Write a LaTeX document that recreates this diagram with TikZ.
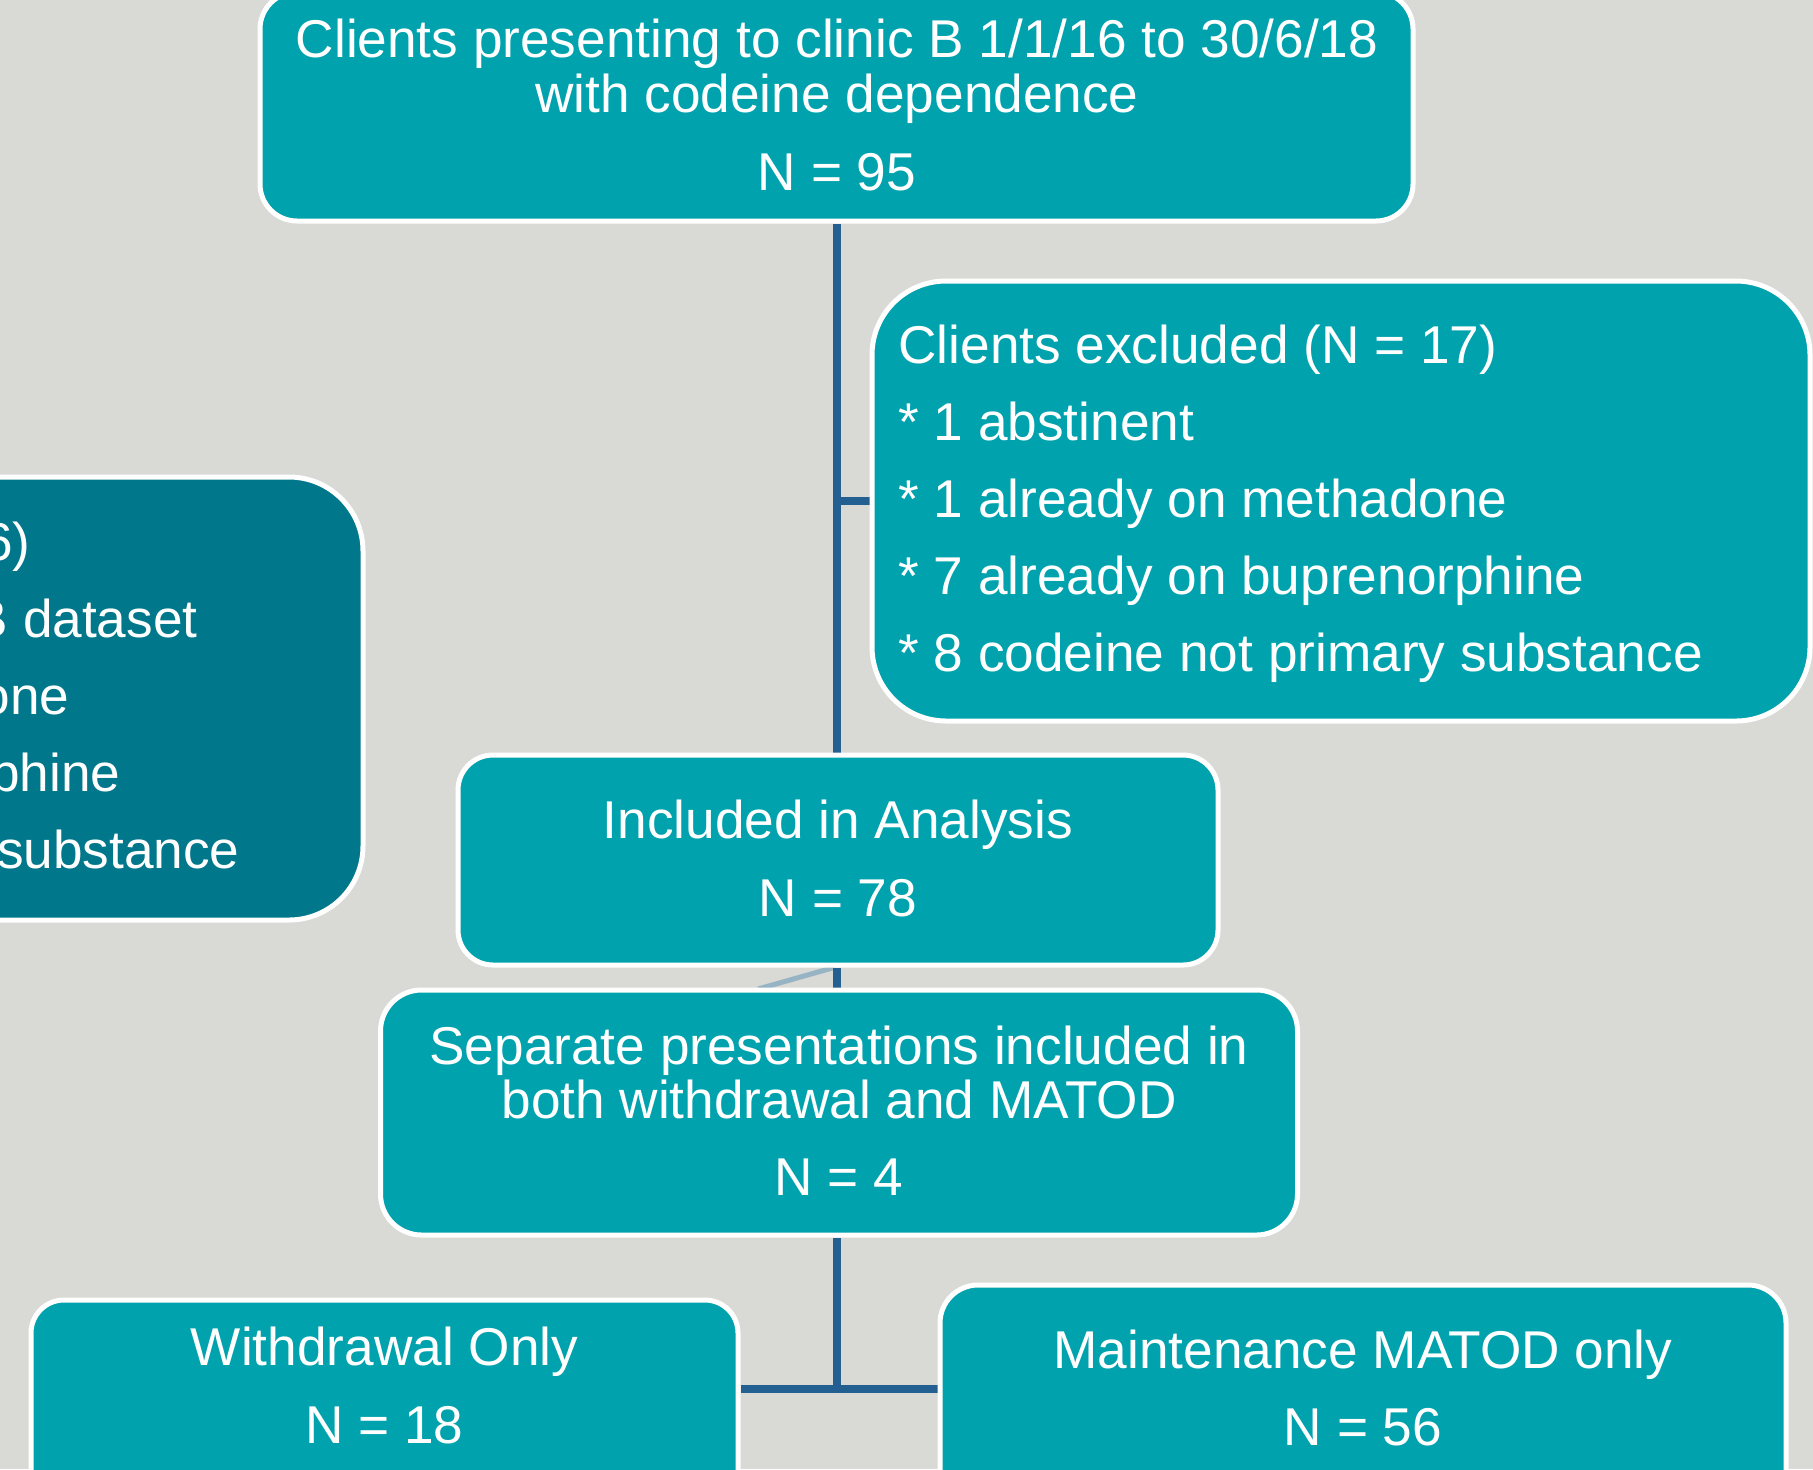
\documentclass[tikz,border=0pt]{standalone}
\usepackage{fontspec}
\setmainfont{Liberation Sans}
\pgfdeclarelayer{bg}
\pgfsetlayers{bg,main}
\definecolor{tealbox}{RGB}{0,163,173}
\definecolor{tealdark}{RGB}{0,119,138}
\definecolor{bgcol}{RGB}{217,217,213}
\definecolor{lineblue}{RGB}{35,95,145}
\definecolor{faintblue}{RGB}{150,180,195}
\tikzset{
  box/.style={rectangle, draw=white, line width=2.5pt, fill=tealbox, inner sep=0pt},
  darkbox/.style={box, fill=tealdark},
  txt/.style={text=white, inner sep=0pt, anchor=base, font=\fontsize{26.6}{26.6}\selectfont},
  txtl/.style={txt, anchor=base west},
  txtr/.style={txt, anchor=base east},
  conn/.style={draw=lineblue, line width=4pt},
  faint/.style={draw=faintblue, line width=2.5pt},
}
\begin{document}
\begin{tikzpicture}[x=0.5pt,y=-0.5pt]
\useasboundingbox (0,0) rectangle (1813,1469);
\clip (0,0) rectangle (1813,1469);
\begin{pgfonlayer}{bg}
  \fill[bgcol] (0,0) rectangle (1813,1469);
\end{pgfonlayer}

% boxes
\node[box, minimum width=576.5pt, minimum height=114.5pt, rounded corners=18.5pt] (top) at (836.5,106.5) {};
\node[box, minimum width=469pt, minimum height=220pt, rounded corners=37pt] (excl) at (1341,501) {};
\node[darkbox, minimum width=331.5pt, minimum height=221.5pt, rounded corners=37pt] (left) at (31.5,698.5) {};
\node[box, minimum width=380pt, minimum height=105pt, rounded corners=17.5pt] (incl) at (838,860) {};
\node[box, minimum width=458.5pt, minimum height=122.5pt, rounded corners=20.5pt] (sep) at (839,1112.5) {};
\node[box, minimum width=353.5pt, minimum height=110pt, rounded corners=16.5pt] (wd) at (384.5,1410) {};
\node[box, minimum width=423pt, minimum height=122.5pt, rounded corners=19pt] (mt) at (1363,1407.5) {};

% connectors
\coordinate (spine) at (837,0);
\coordinate (junc) at (837,1389);
\coordinate (fa) at (758,989);
\begin{pgfonlayer}{bg}
  \draw[conn] (spine |- top.south) -- (spine |- incl.north);
  \draw[conn] (spine |- excl.west) -- (excl.west);
  \draw[faint] (fa) -- ([xshift=-2pt]incl.south);
  \draw[conn] (spine |- incl.south) -- (spine |- sep.north);
  \draw[conn] (spine |- sep.south) -- (junc);
  \draw[conn] (wd.east |- junc) -- (mt.west |- junc);
\end{pgfonlayer}

% texts
\node[txt] (t1) at (837,57) {Clients presenting to clinic B 1/1/16 to 30/6/18};
\node[txt] (t2) at (837,112) {with codeine dependence};
\node[txt] (t3) at (837,190) {N = 95};

\node[txtl] (e1) at (898,363) {Clients excluded (N = 17)};
\node[txtl] (e2) at (898,440) {* 1 abstinent};
\node[txtl] (e3) at (898,517) {* 1 already on methadone};
\node[txtl] (e4) at (898,594) {* 7 already on buprenorphine};
\node[txtl] (e5) at (898,671) {* 8 codeine not primary substance};

\node[txtr] (l1) at (31,560) {16)};
\node[txtr] (l2) at (198,637) {B dataset};
\node[txtr] (l3) at (70,714) {methadone};
\node[txtr] (l4) at (121,791) {buprenorphine};
\node[txtr] (l5) at (240,868) {not primary substance};

\node[txt] (i1) at (838,838) {Included in Analysis};
\node[txt] (i2) at (838,916) {N = 78};

\node[txt] (s1) at (839,1064) {Separate presentations included in};
\node[txt] (s2) at (839,1118) {both withdrawal and MATOD};
\node[txt] (s3) at (839,1195) {N = 4};

\node[txt] (w1) at (384.5,1365) {Withdrawal Only};
\node[txt] (w2) at (384.5,1443) {N = 18};

\node[txt] (m1) at (1363,1368) {Maintenance MATOD only};
\node[txt] (m2) at (1363,1445) {N = 56};
\end{tikzpicture}
\end{document}
